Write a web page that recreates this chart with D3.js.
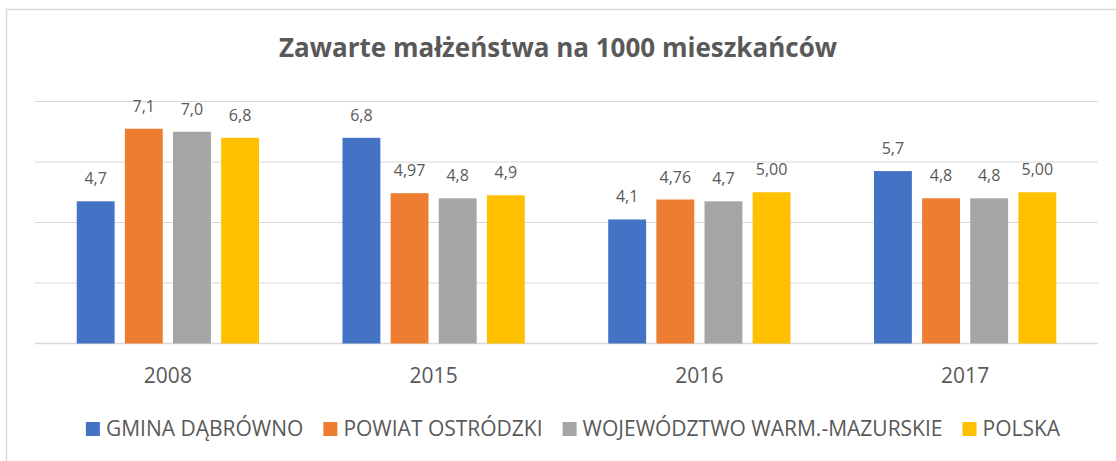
<!DOCTYPE html>
<html>
<head>
<meta charset="utf-8">
<script src="https://cdn.jsdelivr.net/npm/d3@7"></script>
<style>
  body { margin: 0; background: #fff; }
  svg text { font-family: "Open Sans", "Noto Sans", sans-serif; fill: #595959; }
</style>
</head>
<body>
<svg></svg>
<script>
// chart data
const years = ["2008", "2015", "2016", "2017"]
const seriesNames = ["GMINA DĄBRÓWNO", "POWIAT OSTRÓDZKI", "WOJEWÓDZTWO WARM.-MAZURSKIE", "POLSKA"]
const gmina = [4.7, 6.8, 4.1, 5.7]
const powiat = [7.1, 4.97, 4.76, 4.8]
const wojewodztwo = [7.0, 4.8, 4.7, 4.8]
const polska = [6.8, 4.9, 5.00, 5.00]
// labels as printed on the chart (decimal comma, varying precision)
const gminaLabels = ["4,7", "6,8", "4,1", "5,7"]
const powiatLabels = ["7,1", "4,97", "4,76", "4,8"]
const wojewodztwoLabels = ["7,0", "4,8", "4,7", "4,8"]
const polskaLabels = ["6,8", "4,9", "5,00", "5,00"]
const yTicks = [0, 2, 4, 6, 8]
const colors = ["#4472C4", "#ED7D31", "#A5A5A5", "#FFC000"]

const seriesValues = [gmina, powiat, wojewodztwo, polska]
const seriesLabels = [gminaLabels, powiatLabels, wojewodztwoLabels, polskaLabels]

const width = 1116
const height = 461

const svg = d3.select("svg")
    .attr("width", width)
    .attr("height", height)

// chart area frame (right and bottom edges fall outside the picture)
svg.append("rect")
    .attr("x", 6.5)
    .attr("y", 9.5)
    .attr("width", 1130)
    .attr("height", 470)
    .attr("fill", "#fff")
    .attr("stroke", "#d9d9d9")
    .attr("stroke-width", 1.5)

svg.append("text")
    .attr("x", 558)
    .attr("y", 57)
    .attr("text-anchor", "middle")
    .style("font-size", "26px")
    .style("font-weight", "bold")
    .text("Zawarte małżeństwa na 1000 mieszkańców")

const scaleX = d3.scaleBand()
    .domain(years)
    .range([35, 1098])
    .paddingInner(0.314)
    .paddingOuter(0.157)

const scaleSeries = d3.scaleBand()
    .domain(d3.range(seriesNames.length))
    .range([0, scaleX.bandwidth()])
    .paddingInner(0.213)

const scaleY = d3.scaleLinear()
    .domain([0, 8])
    .range([343.5, 101.5])

// horizontal gridlines
svg.append("g")
    .selectAll("line")
    .data(yTicks)
    .enter()
    .append("line")
    .attr("x1", 35)
    .attr("x2", 1098)
    .attr("y1", d => scaleY(d))
    .attr("y2", d => scaleY(d))
    .attr("stroke", "#d9d9d9")
    .attr("stroke-width", d => d === 0 ? 1.5 : 1.2)

// one group per year
const groups = svg.append("g")
    .selectAll("g.year")
    .data(years)
    .enter()
    .append("g")
    .attr("class", "year")
    .attr("transform", d => `translate(${scaleX(d)}, 0)`)

groups.selectAll("rect")
    .data((d, i) => seriesValues.map((s, j) => ({ series: j, value: s[i], label: seriesLabels[j][i] })))
    .enter()
    .append("rect")
    .attr("x", d => scaleSeries(d.series))
    .attr("y", d => scaleY(d.value))
    .attr("width", scaleSeries.bandwidth())
    .attr("height", d => scaleY(0) - scaleY(d.value))
    .attr("fill", d => colors[d.series])

groups.selectAll("text.value")
    .data((d, i) => seriesValues.map((s, j) => ({ series: j, value: s[i], label: seriesLabels[j][i] })))
    .enter()
    .append("text")
    .attr("class", "value")
    .attr("x", d => scaleSeries(d.series) + scaleSeries.bandwidth() / 2)
    .attr("y", d => scaleY(d.value) - 17)
    .attr("text-anchor", "middle")
    .style("font-size", "16px")
    .text(d => d.label)

// x-axis category labels
svg.append("g")
    .selectAll("text")
    .data(years)
    .enter()
    .append("text")
    .attr("x", d => scaleX(d) + scaleX.bandwidth() / 2)
    .attr("y", 383)
    .attr("text-anchor", "middle")
    .style("font-size", "21px")
    .text(d => d)

// legend, laid out left to right
const legend = svg.append("g")
let cursor = 0
seriesNames.forEach((name, i) => {
    const item = legend.append("g").attr("transform", `translate(${cursor}, 0)`)
    item.append("rect")
        .attr("x", 0)
        .attr("y", -13)
        .attr("width", 14)
        .attr("height", 14)
        .attr("fill", colors[i])
    const label = item.append("text")
        .attr("x", 20)
        .attr("y", 1)
        .style("font-size", "21px")
        .text(name)
    cursor += 20 + label.node().getComputedTextLength() + 20
})
const legendWidth = cursor - 20
legend.attr("transform", `translate(${573 - legendWidth / 2}, 435)`)
</script>
</body>
</html>
